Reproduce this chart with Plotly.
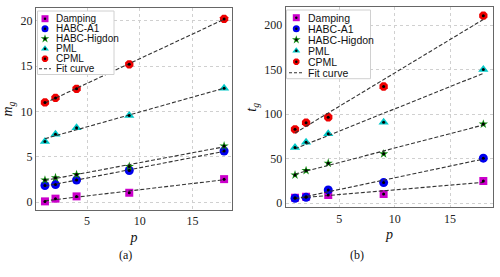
import numpy as np
import plotly.graph_objects as go

p = [1, 2, 4, 9, 18]
series_names = ["Damping", "HABC-A1", "HABC-Higdon", "PML", "CPML"]
fit_label = "Fit curve"

# (a) m_g
mg_damping = [0.1, 0.4, 0.65, 1.05, 2.55]
mg_a1 = [1.85, 1.95, 2.45, 3.5, 5.65]
mg_higdon = [2.45, 2.7, 3.05, 3.95, 6.2]
mg_pml = [6.7, 7.5, 8.2, 9.55, 12.55]
mg_cpml = [11.0, 11.5, 12.5, 15.2, 20.2]

# (b) t_g
tg_damping = [6.3, 7.4, 9.3, 10.5, 25.0]
tg_a1 = [5.6, 6.7, 15.0, 23.2, 50.6]
tg_higdon = [31.8, 36.7, 45.0, 55.5, 88.9]
tg_pml = [62.5, 68.6, 78.0, 91.0, 150.0]
tg_cpml = [83.0, 90.5, 96.5, 131.0, 210.5]

colors = ["#cc00cc", "#0000ee", "#118811", "#00c8c8", "#ee0000"]
symbols = ["square", "circle", "star", "triangle-up", "octagon"]
sizes = [8, 9, 7, 9, 9]

FONT_SERIF = "Liberation Serif"
FONT_SANS = "Liberation Sans"
W, H = 500, 277
FIT_DASH = "4px,2px"

fig = go.Figure()

def add_panel(data, xa, ya):
    for name, vals, c, s, sz in zip(series_names, data, colors, symbols, sizes):
        fig.add_trace(go.Scatter(
            x=p, y=vals, mode="markers", name=name,
            marker=dict(color=c, symbol=s, size=sz, line=dict(width=0)),
            xaxis=xa, yaxis=ya, showlegend=False))
    for vals in data:
        k, b = np.polyfit(p, vals, 1)
        xs = np.array([p[0], p[-1]])
        fig.add_trace(go.Scatter(
            x=xs, y=k * xs + b, mode="lines", name=fit_label,
            line=dict(color="#333333", width=1.1, dash=FIT_DASH),
            xaxis=xa, yaxis=ya, showlegend=False))
    for vals in data:
        fig.add_trace(go.Scatter(
            x=p, y=vals, mode="markers",
            marker=dict(color="black", size=3, symbol="circle"),
            xaxis=xa, yaxis=ya, showlegend=False, hoverinfo="skip"))

add_panel([mg_damping, mg_a1, mg_higdon, mg_pml, mg_cpml], "x", "y")
add_panel([tg_damping, tg_a1, tg_higdon, tg_pml, tg_cpml], "x2", "y2")

# ---- hand-drawn legends (pixel layout on an invisible overlay axis) ----
legend_specs = [
    dict(box=(37.5, 11, 114, 74.5), mx=45, tx=54, y0=18.7, dy=10.0, fs=10, line=(39, 51)),
    dict(box=(286.5, 10, 370.5, 78.7), mx=296.3, tx=305.5, y0=17.7, dy=11.0, fs=10.5, line=(289, 303)),
]
legend_sizes = [7, 7, 6.5, 7, 7]

annotations = []
for spec in legend_specs:
    bx0, by0, bx1, by1 = spec["box"]
    fig.add_trace(go.Scatter(
        x=[bx0, bx1, bx1, bx0, bx0], y=[by0, by0, by1, by1, by0], mode="lines",
        fill="toself", fillcolor="white", line=dict(color="#d0d0d0", width=1),
        xaxis="x3", yaxis="y3", showlegend=False, hoverinfo="skip"))
    rows_y = [spec["y0"] + i * spec["dy"] for i in range(len(series_names) + 1)]
    for i, (name, c, s, ls) in enumerate(zip(series_names, colors, symbols, legend_sizes)):
        fig.add_trace(go.Scatter(
            x=[spec["mx"]], y=[rows_y[i]], mode="markers",
            marker=dict(color=c, symbol=s, size=ls, line=dict(width=0)),
            xaxis="x3", yaxis="y3", showlegend=False, hoverinfo="skip"))
        fig.add_trace(go.Scatter(
            x=[spec["mx"]], y=[rows_y[i]], mode="markers",
            marker=dict(color="black", size=2.5, symbol="circle"),
            xaxis="x3", yaxis="y3", showlegend=False, hoverinfo="skip"))
    lx0, lx1 = spec["line"]
    fig.add_trace(go.Scatter(
        x=[lx0, lx1], y=[rows_y[-1], rows_y[-1]], mode="lines",
        line=dict(color="#333333", width=1.1, dash="3px,2px"),
        xaxis="x3", yaxis="y3", showlegend=False, hoverinfo="skip"))
    for i, label in enumerate(series_names + [fit_label]):
        annotations.append(dict(
            text=label, x=spec["tx"] / W, y=1 - rows_y[i] / H, xref="paper", yref="paper",
            xanchor="left", yanchor="middle", showarrow=False,
            font=dict(family=FONT_SANS, size=spec["fs"], color="#111")))

annotations += [
    dict(text="(a)", x=117 / W, y=1 - 264 / H, xref="paper", yref="paper", showarrow=False,
         font=dict(family=FONT_SERIF, size=12, color="#111")),
    dict(text="(b)", x=366 / W, y=1 - 264 / H, xref="paper", yref="paper", showarrow=False,
         font=dict(family=FONT_SERIF, size=12, color="#111")),
]

axis_common = dict(
    showline=True, mirror=True, linecolor="#666666", linewidth=1,
    showgrid=True, gridcolor="#d0d0d0", griddash="dot", gridwidth=1,
    zeroline=False, ticks="", automargin=False,
    tickfont=dict(family=FONT_SERIF, size=12, color="#222"),
)
title_font = dict(family=FONT_SERIF, size=14, color="#111")

fig.update_layout(
    width=W, height=H,
    margin=dict(l=0, r=0, t=0, b=0, autoexpand=False),
    paper_bgcolor="white", plot_bgcolor="rgba(0,0,0,0)",
    showlegend=False,
    xaxis=dict(domain=[36 / W, 232 / W], range=[0.15, 18.75], tickvals=[5, 10, 15],
               anchor="y", title=dict(text="<i>p</i>", font=title_font, standoff=4),
               **axis_common),
    yaxis=dict(domain=[1 - 210 / H, 1 - 8 / H], range=[-0.85, 21.4], tickvals=[0, 5, 10, 15, 20],
               anchor="x", title=dict(text="<i>m<sub>g</sub></i>", font=title_font, standoff=4),
               **axis_common),
    xaxis2=dict(domain=[285.7 / W, 493.3 / W], range=[0.16, 18.9], tickvals=[5, 10, 15],
                anchor="y2", title=dict(text="<i>p</i>", font=title_font, standoff=4),
                **axis_common),
    yaxis2=dict(domain=[1 - 207.3 / H, 1 - 7.3 / H], range=[-4.5, 219.9],
                tickvals=[0, 50, 100, 150, 200],
                anchor="x2", title=dict(text="<i>t<sub>g</sub></i>", font=title_font, standoff=4),
                **axis_common),
    xaxis3=dict(domain=[0, 1], range=[0, W], visible=False, fixedrange=True, anchor="y3"),
    yaxis3=dict(domain=[0, 1], range=[H, 0], visible=False, fixedrange=True, anchor="x3"),
    annotations=annotations,
)

fig.write_html("out.html", config={"displayModeBar": False},
               post_script="document.body.style.margin='0px';")
